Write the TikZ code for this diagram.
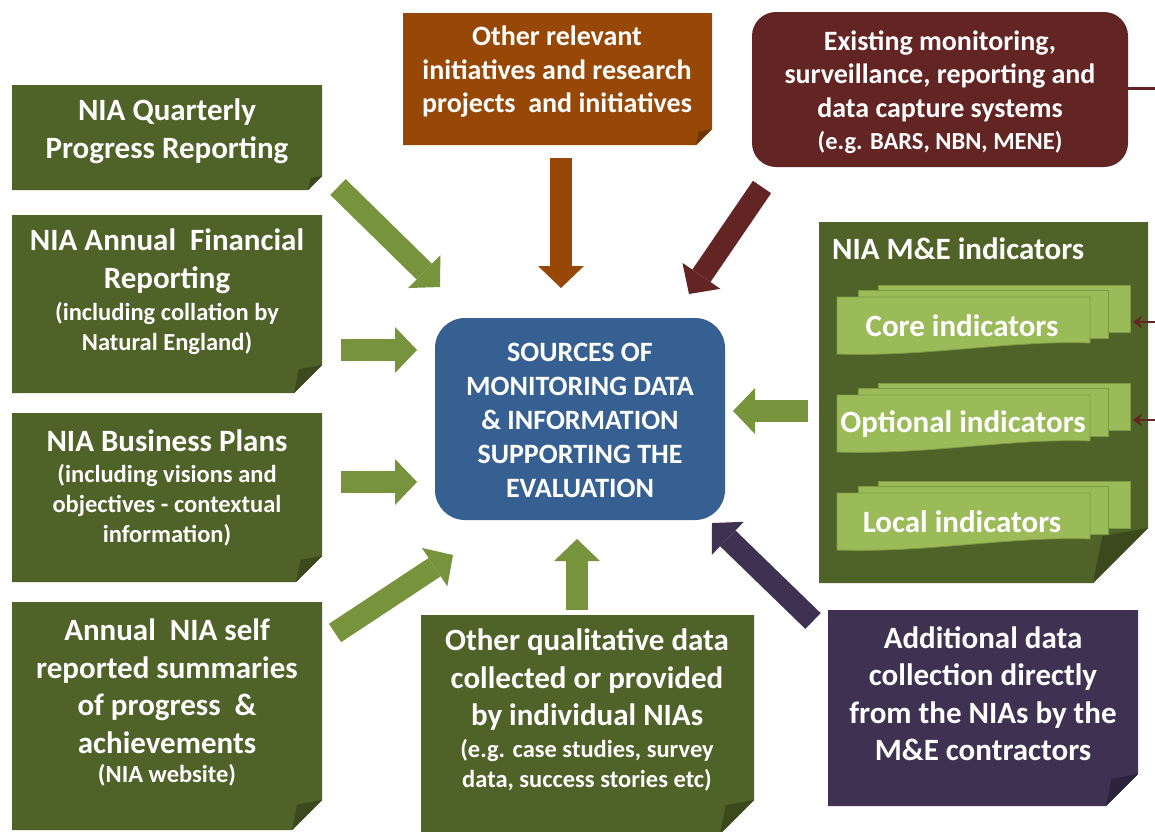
\documentclass[tikz,border=0pt]{standalone}
\usepackage{fontspec}
\setmainfont{Carlito}
\usetikzlibrary{arrows.meta,calc}
\definecolor{dkgreen}{HTML}{4F6228}
\definecolor{dkgreenfold}{HTML}{3A4A1C}
\definecolor{argreen}{HTML}{77933C}
\definecolor{ltgreen}{HTML}{9BBB59}
\definecolor{stackedge}{HTML}{7E9A44}
\definecolor{orng}{HTML}{974806}
\definecolor{orngfold}{HTML}{6E3404}
\definecolor{dkred}{HTML}{632523}
\definecolor{navy}{HTML}{366092}
\definecolor{purp}{HTML}{3F3151}
\definecolor{purpfold}{HTML}{2D233D}
\tikzset{
  bigarrow/.style={line width=22pt, draw=#1, -{Triangle[length=22pt,width=46pt,line width=0pt,fill=#1]}},
  thinarrow/.style={draw=dkred, line width=2.5pt, -{Stealth[length=9pt,width=13pt]}},
  txt/.style={text=white, align=center, inner sep=0pt},
  bigtxt/.style={txt, font=\bfseries\fontsize{31}{37.5}\selectfont},
  midtxt/.style={txt, font=\bfseries\fontsize{28}{33.5}\selectfont},
  smalltxt/.style={txt, font=\bfseries\fontsize{24.5}{30}\selectfont},
  ctrtxt/.style={txt, font=\bfseries\fontsize{28}{34}\selectfont},
  indtxt/.style={txt, font=\bfseries\fontsize{31}{34}\selectfont},
}
\newcommand\foldbox[7]{%
  \fill[#6] (#1,#2) -- (#3,#2) -- (#3,#4-#5) -- (#3-#5,#4) -- (#1,#4) -- cycle;
  \fill[#7] (#3,#4-#5) -- (#3-#5,#4) -- (#3-0.83*#5,#4-0.85*#5) -- cycle;
}
\newcommand\indstack[1]{%
  \filldraw[fill=ltgreen, draw=stackedge, line width=0.8pt] (878,#1-12) rectangle (1130,#1+35);
  \filldraw[fill=ltgreen, draw=stackedge, line width=0.8pt] (858,#1-7) rectangle (1108,#1+41);
  \filldraw[fill=ltgreen, draw=stackedge, line width=0.8pt] (837,#1) -- (1090,#1) -- (1090,#1+46)
     .. controls (1010,#1+43) and (930,#1+60) .. (837,#1+57) -- cycle;
}
\begin{document}
\begin{tikzpicture}[x=1pt,y=-1pt]
\useasboundingbox[fill=white] (0,0) rectangle (1155,831);

% boxes
\foldbox{12}{85}{322}{190}{14}{dkgreen}{dkgreenfold}
\foldbox{12}{215}{322}{393}{28}{dkgreen}{dkgreenfold}
\foldbox{12}{413}{322}{582}{26}{dkgreen}{dkgreenfold}
\foldbox{12}{602}{322}{830}{30}{dkgreen}{dkgreenfold}
\foldbox{403}{13}{712}{145}{16}{orng}{orngfold}
\foldbox{819}{222}{1148}{583}{55}{dkgreen}{dkgreenfold}
\foldbox{421}{615}{754}{834}{34}{dkgreen}{dkgreenfold}
\foldbox{828}{610}{1138}{806}{32}{purp}{purpfold}
\fill[dkred, rounded corners=24pt] (752,12) rectangle (1128,167);
\fill[navy, rounded corners=30pt] (435,318) rectangle (725,520);

% indicator stacks
\indstack{297}
\indstack{395}
\indstack{493}

% texts
\node[bigtxt] (q) at (167,131) {NIA Quarterly\\Progress Reporting};
\node[bigtxt] (f) at (167,261) {NIA Annual\ \ Financial\\Reporting};
\node[smalltxt] (fs) at (167,328) {(including collation by\\Natural England)};
\node[bigtxt] (b) at (167,441) {NIA Business Plans};
\node[smalltxt] (bs) at (167,505) {(including visions and\\objectives - contextual\\information)};
\node[bigtxt] (s) at (167,686) {Annual\ \ NIA self\\reported summaries\\of progress\ \ \&\\achievements};
\node[smalltxt] (ss) at (167,775) {(NIA website)};
\node[midtxt] (o) at (557,72) {Other relevant\\initiatives and research\\projects\ \ and initiatives};
\node[midtxt] (e) at (940,76) {Existing monitoring,\\surveillance, reporting and\\data capture systems};
\node[smalltxt] (es) at (940,142) {(e.g. BARS, NBN, MENE)};
\node[ctrtxt] (c) at (580,420) {SOURCES OF\\MONITORING DATA\\\& INFORMATION\\SUPPORTING THE\\EVALUATION};
\node[midtxt, font=\bfseries\fontsize{31}{34}\selectfont, anchor=west] (m) at (832,249) {NIA M\&E indicators};
\node[indtxt] (core) at (962,326) {Core indicators};
\node[indtxt] (opt) at (963,424) {Optional indicators};
\node[indtxt] (loc) at (962,522) {Local indicators};
\node[bigtxt] (q2) at (587,680) {Other qualitative data\\collected or provided\\by individual NIAs};
\node[smalltxt] (q2s) at (587,765.5) {(e.g. case studies, survey\\data, success stories etc)};
\node[bigtxt] (a) at (983,693.5) {Additional data\\collection directly\\from the NIAs by the\\M\&E contractors};

% arrow end points
\coordinate (a1s) at (338,187);  \coordinate (a1e) at (440,287);
\coordinate (a2s) at (341,350);  \coordinate (a2e) at (417,350);
\coordinate (a3s) at (341,482);  \coordinate (a3e) at (417,482);
\coordinate (a4s) at (335,633);  \coordinate (a4e) at (453,555);
\coordinate (a5s) at (561,158);  \coordinate (a5e) at (561,288);
\coordinate (a6s) at (762,187);  \coordinate (a6e) at (689,294);
\coordinate (a7s) at (808,411);  \coordinate (a7e) at (733,411);
\coordinate (a8s) at (577,610);  \coordinate (a8e) at (577,539);
\coordinate (a9s) at (813,621);  \coordinate (a9e) at (712,523);

\draw[bigarrow=argreen] (a1s) -- (a1e);
\draw[bigarrow=argreen] (a2s) -- (a2e);
\draw[bigarrow=argreen] (a3s) -- (a3e);
\draw[bigarrow=argreen] (a4s) -- (a4e);
\draw[bigarrow=orng] (a5s) -- (a5e);
\draw[bigarrow=dkred] (a6s) -- (a6e);
\draw[bigarrow=argreen] (a7s) -- (a7e);
\draw[bigarrow=argreen] (a8s) -- (a8e);
\draw[bigarrow=purp] (a9s) -- (a9e);

% dark red connectors on the right
\coordinate (eR) at (1128,88); \coordinate (eEdge) at (1155,88);
\draw[dkred, line width=3pt] (eR) -- (eEdge);
\coordinate (k1s) at (1155,322); \coordinate (k1e) at (1133,322);
\coordinate (k2s) at (1155,420); \coordinate (k2e) at (1133,420);
\draw[thinarrow] (k1s) -- (k1e);
\draw[thinarrow] (k2s) -- (k2e);
\end{tikzpicture}
\end{document}
